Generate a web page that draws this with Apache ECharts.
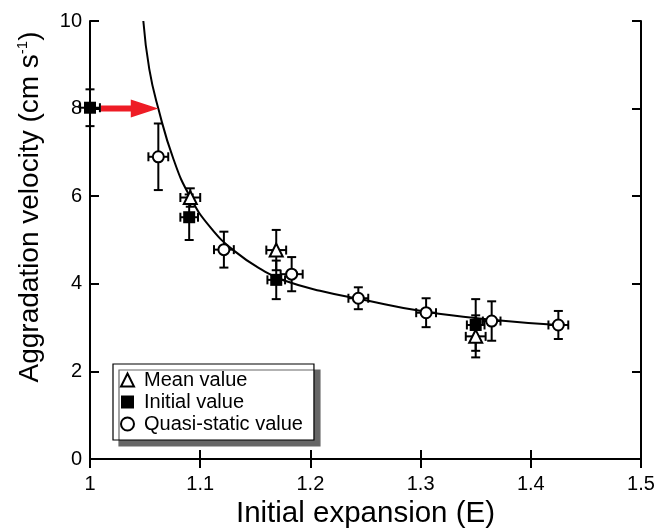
<!DOCTYPE html>
<html>
<head>
<meta charset="utf-8">
<script src="https://cdn.jsdelivr.net/npm/echarts@6/dist/echarts.min.js"></script>
<style>
html,body{margin:0;padding:0;background:#fff;}
#chart{width:660px;height:528px;}
</style>
</head>
<body>
<div id="chart"></div>
<script>
// ---- data ----
const xTickLabels = ['1', '1.1', '1.2', '1.3', '1.4', '1.5'];
const yTickLabels = ['0', '2', '4', '6', '8', '10'];

// Mean value (open triangles)
const meanE    = [1.091, 1.169, 1.350];
const meanV    = [5.97, 4.77, 2.80];
const meanErrV = [0.21, 0.46, 0.48];
const meanErrE = [0.009, 0.009, 0.009];

// Initial value (filled squares)
const initE    = [1.000, 1.090, 1.169, 1.350];
const initV    = [8.02, 5.52, 4.09, 3.06];
const initErrV = [0.42, 0.52, 0.44, 0.59];
const initErrE = [0.009, 0.008, 0.008, 0.008];

// Quasi-static value (open circles)
const quasiE    = [1.062, 1.1215, 1.183, 1.2435, 1.305, 1.3645, 1.425];
const quasiV    = [6.90, 4.78, 4.22, 3.67, 3.34, 3.15, 3.06];
const quasiErrV = [0.76, 0.41, 0.39, 0.25, 0.33, 0.45, 0.32];
const quasiErrE = [0.009, 0.009, 0.010, 0.009, 0.009, 0.008, 0.009];

// fitted curve, points
const curveE = [1.0484, 1.0538, 1.062, 1.0757, 1.0907, 1.1089, 1.1315, 1.1587, 1.1769, 1.2087, 1.2435, 1.305, 1.3645, 1.425];
const curveV = [10.0, 8.90, 8.0, 6.85, 5.99, 5.30, 4.74, 4.28, 4.07, 3.84, 3.66, 3.36, 3.18, 3.06];

// red arrow: start E, level, head base E, tip E
const arrowStartE = 1.010;
const arrowV = 8.0;
const arrowHeadE = 1.037;
const arrowTipE = 1.062;

const seriesNames = ['Mean value', 'Initial value', 'Quasi-static value'];

// ---- chart ----
const FONT = 'Liberation Sans, Arial, Helvetica, sans-serif';
const chart = echarts.init(document.getElementById('chart'), null, {renderer: 'canvas'});

function errData(E, V, dV, dE) {
  return E.map((e, i) => [e, V[i], dV[i], dE[i]]);
}

function renderErr(params, api) {
  const E = api.value(0), V = api.value(1), dV = api.value(2), dE = api.value(3);
  const top = api.coord([E, V + dV]), bot = api.coord([E, V - dV]);
  const lft = api.coord([E - dE, V]), rgt = api.coord([E + dE, V]);
  const c = 4.5;
  const style = {stroke: '#000', lineWidth: 2, fill: null};
  const L = (x1, y1, x2, y2) => ({type: 'line', shape: {x1, y1, x2, y2}, style});
  return {
    type: 'group',
    children: [
      L(top[0], top[1], bot[0], bot[1]),
      L(top[0] - c, top[1], top[0] + c, top[1]),
      L(bot[0] - c, bot[1], bot[0] + c, bot[1]),
      L(lft[0], lft[1], rgt[0], rgt[1]),
      L(lft[0], lft[1] - c, lft[0], lft[1] + c),
      L(rgt[0], rgt[1] - c, rgt[0], rgt[1] + c)
    ]
  };
}

function renderArrow(params, api) {
  const p0 = api.coord([api.value(0), api.value(1)]);
  const ph = api.coord([api.value(2), api.value(1)]);
  const pt = api.coord([api.value(3), api.value(1)]);
  const y = p0[1], t = 3, h = 9;
  return {
    type: 'polygon',
    shape: {points: [
      [p0[0], y - t], [ph[0], y - t], [ph[0], y - h], [pt[0], y],
      [ph[0], y + h], [ph[0], y + t], [p0[0], y + t]
    ]},
    style: {fill: '#ee1c25', stroke: null}
  };
}

const axisLineStyle = {color: '#000', width: 2};
const tickStyle = {show: true, inside: true, length: 9, lineStyle: {color: '#000', width: 2}};

const option = {
  backgroundColor: '#fff',
  animation: false,
  textStyle: {fontFamily: FONT},
  grid: {left: 90, right: 19, top: 21, bottom: 69, containLabel: false, outerBoundsMode: 'none'},
  legend: {
    data: seriesNames,
    orient: 'vertical',
    left: 113,
    top: 364,
    padding: [5, 11, 5, 7],
    itemGap: 0,
    itemWidth: 13,
    itemHeight: 13,
    backgroundColor: '#fff',
    borderColor: '#000',
    borderWidth: 1.2,
    borderRadius: 0,
    shadowColor: '#666666',
    shadowOffsetX: 6,
    shadowOffsetY: 6,
    shadowBlur: 0,
    selectedMode: false,
    textStyle: {fontSize: 20, color: '#000', fontFamily: FONT, lineHeight: 21, padding: [1, 0, 0, 5]}
  },
  xAxis: [
    {
      type: 'value', min: 1, max: 1.5, interval: 0.1, position: 'bottom',
      axisLine: {show: true, lineStyle: axisLineStyle},
      axisTick: tickStyle,
      splitLine: {show: false},
      axisLabel: {
        fontSize: 20, color: '#000', margin: 15, fontFamily: FONT,
        formatter: v => xTickLabels[Math.round((v - 1) / 0.1)]
      },
      name: 'Initial expansion (E)',
      nameLocation: 'middle',
      nameGap: 40,
      nameTextStyle: {fontSize: 29.5, color: '#000', fontFamily: FONT}
    },
    {
      type: 'value', min: 1, max: 1.5, interval: 0.1, position: 'top',
      axisLine: {show: true, lineStyle: axisLineStyle},
      axisTick: tickStyle,
      splitLine: {show: false},
      axisLabel: {show: false}
    }
  ],
  yAxis: [
    {
      type: 'value', min: 0, max: 10, interval: 2, position: 'left',
      axisLine: {show: true, lineStyle: axisLineStyle},
      axisTick: tickStyle,
      splitLine: {show: false},
      axisLabel: {
        fontSize: 20, color: '#000', margin: 8, fontFamily: FONT,
        formatter: v => yTickLabels[Math.round(v / 2)]
      },
      name: '{a|Aggradation velocity (cm s}{s|-1}{a|)}',
      nameLocation: 'middle',
      nameGap: 44,
      nameTextStyle: {
        color: '#000',
        fontFamily: FONT,
        padding: [0, 0, 0, 66],
        rich: {
          a: {fontSize: 28, color: '#000', fontFamily: FONT, lineHeight: 31},
          s: {fontSize: 15, color: '#000', fontFamily: FONT, verticalAlign: 'top', lineHeight: 31}
        }
      }
    },
    {
      type: 'value', min: 0, max: 10, interval: 2, position: 'right',
      axisLine: {show: true, lineStyle: axisLineStyle},
      axisTick: tickStyle,
      splitLine: {show: false},
      axisLabel: {show: false}
    }
  ],
  series: [
    {
      name: 'fit',
      type: 'line',
      data: curveE.map((e, i) => [e, curveV[i]]),
      showSymbol: false,
      smooth: 0.5,
      lineStyle: {color: '#000', width: 2},
      silent: true,
      z: 2
    },
    {
      type: 'custom', name: 'errInit', renderItem: renderErr,
      data: errData(initE, initV, initErrV, initErrE), encode: {x: 0, y: 1}, z: 3, silent: true
    },
    {
      type: 'custom', name: 'errMean', renderItem: renderErr,
      data: errData(meanE, meanV, meanErrV, meanErrE), encode: {x: 0, y: 1}, z: 3, silent: true
    },
    {
      type: 'custom', name: 'errQuasi', renderItem: renderErr,
      data: errData(quasiE, quasiV, quasiErrV, quasiErrE), encode: {x: 0, y: 1}, z: 3, silent: true
    },
    {
      name: 'Initial value',
      type: 'scatter',
      symbol: 'rect',
      symbolSize: 12,
      clip: false,
      data: initE.map((e, i) => [e, initV[i]]),
      itemStyle: {color: '#000', borderColor: '#000', borderWidth: 0, opacity: 1},
      z: 4
    },
    {
      name: 'Mean value',
      type: 'scatter',
      symbol: 'triangle',
      symbolSize: 13,
      data: meanE.map((e, i) => [e, meanV[i]]),
      itemStyle: {color: '#fff', borderColor: '#000', borderWidth: 2, opacity: 1},
      z: 5
    },
    {
      name: 'Quasi-static value',
      type: 'scatter',
      symbol: 'circle',
      symbolSize: 11,
      data: quasiE.map((e, i) => [e, quasiV[i]]),
      itemStyle: {color: '#fff', borderColor: '#000', borderWidth: 2, opacity: 1},
      z: 6
    },
    {
      type: 'custom', name: 'arrow', renderItem: renderArrow,
      data: [[arrowStartE, arrowV, arrowHeadE, arrowTipE]], encode: {x: 0, y: 1}, z: 7, silent: true
    }
  ]
};
chart.setOption(option);
</script>
</body>
</html>
